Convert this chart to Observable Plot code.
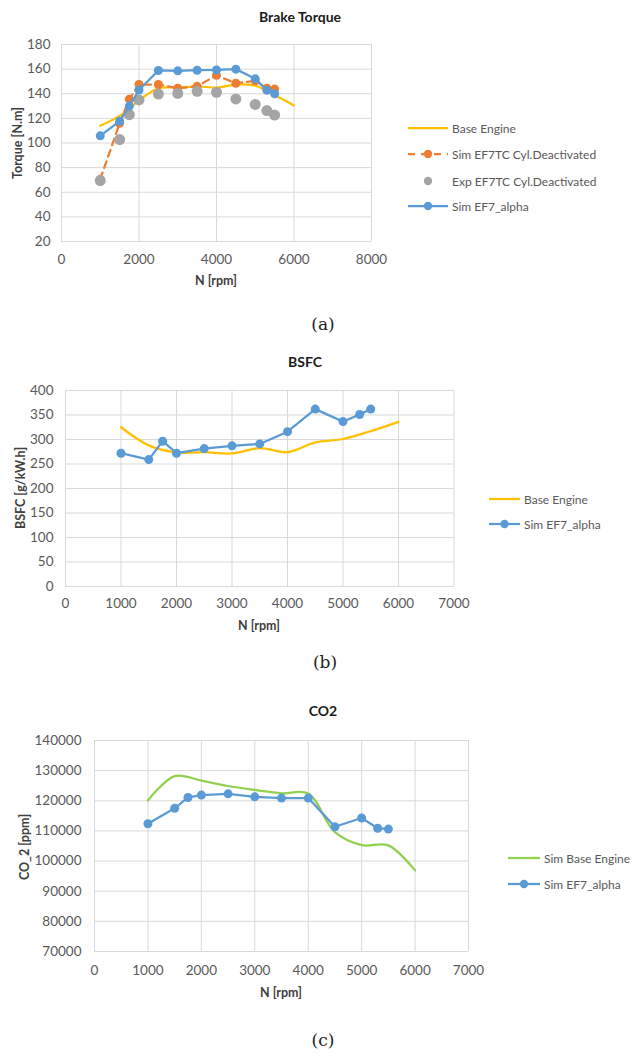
<!DOCTYPE html>
<html><head><meta charset="utf-8">
<script src="https://cdn.jsdelivr.net/npm/d3@7"></script>
<script src="https://cdn.jsdelivr.net/npm/@observablehq/plot@0.6"></script>
<style>
body{margin:0;background:#fff;}
#wrap{position:relative;width:638px;height:1054px;background:#fff;font-family:Lato,"Open Sans",sans-serif;overflow:hidden}
.chart{position:absolute;left:0}
.ctr{position:absolute;transform:translate(-50%,-50%);white-space:nowrap}
.title{font-weight:bold;font-size:14px;color:#1a1a1a}
.axt{font-weight:bold;font-size:12.5px;color:#404040}
.rot{transform:translate(-50%,-50%) rotate(-90deg)}
.cap{font-family:"DejaVu Serif","Liberation Serif",serif;font-size:17px;color:#222}
.leg{position:absolute;font-size:12px;color:#595959;white-space:nowrap;display:flex;align-items:center;height:16px;transform:translateY(-50%)}
.leg svg{margin-right:4px}
</style>
</head><body>
<div id="wrap"></div>
<script>
// ---------- DATA ----------
const baseRpm = [1000, 1500, 2000, 2500, 3000, 3500, 4000, 4500, 5000, 5500, 6000];
const simRpm = [1000, 1500, 1750, 2000, 2500, 3000, 3500, 4000, 4500, 5000, 5300, 5500];

// Brake torque [N.m]
const torqueBase = [114, 122, 134.5, 144.5, 145, 146, 145, 147.5, 146.5, 139, 130.5];
const torqueSimCyl = [70.5, 116, 135.6, 147.5, 147.5, 144.5, 146, 155, 148.5, 150.5, 144.5, 143.8];
const torqueExpCyl = [69.5, 102.8, 123, 135, 139.8, 140.3, 142, 141.2, 135.8, 131.3, 126.3, 122.7];
const torqueAlpha = [105.8, 117.7, 130, 143, 158.9, 158.6, 159.1, 159.3, 160, 152.1, 142.8, 140];

// BSFC [g/kW.h]
const bsfcBase = [325, 288, 273.5, 274, 271.5, 282.5, 274, 294, 301, 317, 336];
const bsfcAlpha = [272, 259, 296.5, 272, 281.5, 287, 291, 316, 362, 336.5, 351, 362];

// CO2 [ppm]
const co2Base = [120100, 128200, 126700, 124900, 123600, 122500, 122400, 109600, 105300, 105200, 96900];
const co2Alpha = [112400, 117500, 121100, 121900, 122300, 121300, 120900, 120900, 111400, 114300, 110900, 110600];

// Tick labels
const torqueXTicks = [0, 2000, 4000, 6000, 8000];
const torqueYTicks = [20, 40, 60, 80, 100, 120, 140, 160, 180];
const rpmTicks7 = [0, 1000, 2000, 3000, 4000, 5000, 6000, 7000];
const bsfcYTicks = [0, 50, 100, 150, 200, 250, 300, 350, 400];
const co2YTicks = [70000, 80000, 90000, 100000, 110000, 120000, 130000, 140000];

// Series names
const torqueNames = ["Base Engine", "Sim EF7TC Cyl.Deactivated", "Exp EF7TC Cyl.Deactivated", "Sim EF7_alpha"];
const bsfcNames = ["Base Engine", "Sim EF7_alpha"];
const co2Names = ["Sim Base Engine", "Sim EF7_alpha"];

// ---------- STYLE ----------
const YELLOW = "#FFC000", ORANGE = "#ED7D31", GRAY = "#A5A5A5", BLUE = "#5B9BD5", GREEN = "#92D050";
const GRID = "#d9d9d9";
const wrap = document.getElementById("wrap");

const toRows = (xs, ys) => xs.map((x, i) => ({x, y: ys[i]}));

function frame(o) {
  return Plot.plot({
    width: o.width, height: o.height,
    marginTop: o.mt, marginRight: o.mr, marginBottom: o.mb, marginLeft: o.ml,
    style: {fontFamily: "Lato, 'Open Sans', sans-serif", fontSize: "13.5px", color: "#595959", background: "transparent", overflow: "visible"},
    x: {domain: o.xDomain, label: null},
    y: {domain: o.yDomain, label: null},
    marks: [
      Plot.gridX(o.xTicks, {stroke: GRID, strokeOpacity: 1, strokeWidth: 1}),
      Plot.gridY(o.yTicks, {stroke: GRID, strokeOpacity: 1, strokeWidth: 1}),
      Plot.axisX(o.xTicks, {tickSize: 0, tickPadding: o.xPad, label: null, tickFormat: d => String(d)}),
      Plot.axisY(o.yTicks, {tickSize: 0, tickPadding: o.yPad, label: null, tickFormat: d => String(d)}),
      ...o.marks
    ]
  });
}

function place(svg, top) {
  svg.classList.add("chart");
  svg.style.top = top + "px";
  wrap.appendChild(svg);
}
function text(cls, str, cx, cy) {
  const d = document.createElement("div");
  d.className = "ctr " + cls;
  d.style.left = cx + "px"; d.style.top = cy + "px";
  d.textContent = str;
  wrap.appendChild(d);
}
function legendItem(label, x, y, w, opt) {
  const d = document.createElement("div");
  d.className = "leg";
  d.style.left = x + "px"; d.style.top = y + "px";
  const ns = "http://www.w3.org/2000/svg";
  const s = document.createElementNS(ns, "svg");
  s.setAttribute("width", w); s.setAttribute("height", 14);
  if (opt.line) {
    const l = document.createElementNS(ns, "line");
    l.setAttribute("x1", 0); l.setAttribute("x2", w); l.setAttribute("y1", 7); l.setAttribute("y2", 7);
    l.setAttribute("stroke", opt.color); l.setAttribute("stroke-width", 2.25);
    if (opt.dash) l.setAttribute("stroke-dasharray", opt.dash);
    s.appendChild(l);
  }
  if (opt.dot) {
    const c = document.createElementNS(ns, "circle");
    c.setAttribute("cx", w / 2); c.setAttribute("cy", 7); c.setAttribute("r", opt.r || 4.2);
    c.setAttribute("fill", opt.color);
    s.appendChild(c);
  }
  d.appendChild(s);
  const t = document.createElement("span");
  t.textContent = label;
  d.appendChild(t);
  wrap.appendChild(d);
}

// ---------- (a) Brake Torque ----------
const tBase = toRows(baseRpm, torqueBase);
const tCyl = toRows(simRpm, torqueSimCyl);
const tExp = toRows(simRpm, torqueExpCyl);
const tAlpha = toRows(simRpm, torqueAlpha);
place(frame({
  width: 400, height: 300, mt: 44, mr: 29, mb: 59, ml: 61,
  xDomain: [0, 8000], yDomain: [20, 180], xTicks: torqueXTicks, yTicks: torqueYTicks, xPad: 12.5, yPad: 11,
  marks: [
    Plot.line(tBase, {x: "x", y: "y", stroke: YELLOW, strokeWidth: 2.25, curve: "catmull-rom"}),
    Plot.line(tCyl, {x: "x", y: "y", stroke: ORANGE, strokeWidth: 2.25, strokeDasharray: "7,5"}),
    Plot.dot(tCyl, {x: "x", y: "y", r: 4.5, fill: ORANGE}),
    Plot.dot(tExp, {x: "x", y: "y", r: 5.5, fill: GRAY}),
    Plot.line(tAlpha, {x: "x", y: "y", stroke: BLUE, strokeWidth: 2.25}),
    Plot.dot(tAlpha, {x: "x", y: "y", r: 4.5, fill: BLUE})
  ]
}), 0);
text("title", "Brake Torque", 300, 16);
text("axt", "N [rpm]", 216, 280);
text("axt rot", "Torque [N.m]", 17, 143);
legendItem(torqueNames[0], 408, 128, 40, {line: true, color: YELLOW});
legendItem(torqueNames[1], 408, 154, 40, {line: true, dot: true, dash: "7,6", color: ORANGE});
legendItem(torqueNames[2], 408, 181, 40, {dot: true, color: GRAY});
legendItem(torqueNames[3], 408, 206, 40, {line: true, dot: true, color: BLUE});
text("cap", "(a)", 323, 324);

// ---------- (b) BSFC ----------
place(frame({
  width: 480, height: 280, mt: 50, mr: 26.5, mb: 34, ml: 65,
  xDomain: [0, 7000], yDomain: [0, 400], xTicks: rpmTicks7, yTicks: bsfcYTicks, xPad: 12, yPad: 12,
  marks: [
    Plot.line(toRows(baseRpm, bsfcBase), {x: "x", y: "y", stroke: YELLOW, strokeWidth: 2.25, curve: "catmull-rom"}),
    Plot.line(toRows(simRpm, bsfcAlpha), {x: "x", y: "y", stroke: BLUE, strokeWidth: 2.25}),
    Plot.dot(toRows(simRpm, bsfcAlpha), {x: "x", y: "y", r: 4.5, fill: BLUE})
  ]
}), 340);
text("title", "BSFC", 305, 361);
text("axt", "N [rpm]", 259, 625);
text("axt rot", "BSFC [g/kW.h]", 20, 488);
legendItem(bsfcNames[0], 489, 499, 31, {line: true, color: YELLOW});
legendItem(bsfcNames[1], 489, 524, 31, {line: true, dot: true, color: BLUE});
text("cap", "(b)", 325, 662);

// ---------- (c) CO2 ----------
place(frame({
  width: 500, height: 300, mt: 50, mr: 32, mb: 39, ml: 94,
  xDomain: [0, 7000], yDomain: [70000, 140000], xTicks: rpmTicks7, yTicks: co2YTicks, xPad: 13.5, yPad: 13,
  marks: [
    Plot.line(toRows(baseRpm, co2Base), {x: "x", y: "y", stroke: GREEN, strokeWidth: 2.25, curve: "catmull-rom"}),
    Plot.line(toRows(simRpm, co2Alpha), {x: "x", y: "y", stroke: BLUE, strokeWidth: 2.25}),
    Plot.dot(toRows(simRpm, co2Alpha), {x: "x", y: "y", r: 4.5, fill: BLUE})
  ]
}), 690);
text("title", "CO2", 323, 710);
text("axt", "N [rpm]", 281, 992);
text("axt rot", "CO_2 [ppm]", 24, 847);
legendItem(co2Names[0], 508, 858, 32, {line: true, color: GREEN});
legendItem(co2Names[1], 508, 884, 32, {line: true, dot: true, color: BLUE});
text("cap", "(c)", 323, 1040);
</script>
</body></html>
